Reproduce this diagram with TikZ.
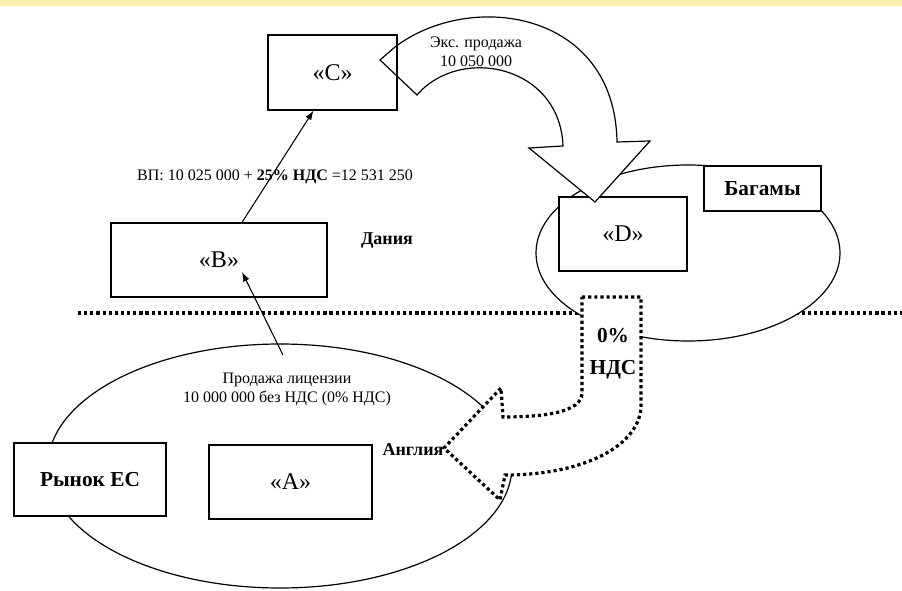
\documentclass[tikz,border=0pt]{standalone}
\usepackage{fontspec}
\setmainfont{Liberation Serif}
\usetikzlibrary{shapes.geometric, arrows.meta, calc}
\definecolor{bandyel}{RGB}{246,238,170}

\begin{document}
\begin{tikzpicture}[x=0.75pt, y=-0.75pt, font=\fontsize{12}{14.25}\selectfont,
  firmbox/.style={draw, line width=0.9pt, fill=white, inner sep=0pt, font=\fontsize{18}{21}\selectfont},
  tagbox/.style={draw, line width=0.9pt, fill=white, inner sep=0pt, font=\bfseries\fontsize{16}{19}\selectfont},
  country/.style={draw, ellipse, line width=0.9pt, fill=white, inner sep=0pt},
  dotline/.style={line width=2.4pt, dash pattern=on 2.4pt off 2.2pt},
  flow/.style={line width=0.8pt, -{Latex[length=7pt,width=5pt]}}
]
  \useasboundingbox (0,0) rectangle (902,591);
  \fill[white] (0,0) rectangle (902,591);
  \fill[bandyel] (0,0) rectangle (902,6);

  % border line
  \draw[dotline] (78,313) -- (902,313);

  % Bahamas
  \node[country, minimum width=228pt, minimum height=132pt] (bah) at (688,253) {};
  \node[firmbox, minimum width=96pt, minimum height=55.5pt] (D) at (623,234) {«D»};
  \node[tagbox, minimum width=87.75pt, minimum height=33.75pt] (bahtag) at (762.5,188.5) {Багамы};

  % export arrow C -> D
  \draw[line width=0.9pt, fill=white] (380,60) -- (395,47)
    .. controls (470,-10) and (615,10) .. (617,142) -- (650,141) -- (595,202)
    -- (529,148) -- (563,146) .. controls (560,65) and (460,45) .. (417,95) -- cycle;
  \node[firmbox, fill=none, minimum width=96.75pt, minimum height=56.25pt] (C) at (332.5,72.5) {«C»};
  \node[align=center] (exptxt) at (476,52) {Экс. продажа\\10 050 000};

  % England
  \node[country, minimum width=348pt, minimum height=183pt] (eng) at (280,466) {};
  \node[tagbox, minimum width=114pt, minimum height=54.75pt] (eu) at (90,479.5) {Рынок ЕС};
  \node[firmbox, minimum width=122.25pt, minimum height=55.5pt] (A) at (290.5,482) {«A»};
  \node[align=center] (lic) at (287,389) {Продажа лицензии\\10 000 000 без НДС (0\% НДС)};

  % zero VAT arrow D -> A
  \draw[dotline, fill=white] (582,297) -- (641,297) -- (641,405)
    .. controls (641,445) and (585,475) .. (505,475) -- (500,500) -- (444,448)
    -- (501,388) -- (503,417) .. controls (545,417) and (582,412) .. (582,393) -- cycle;
  \node[align=center, font=\bfseries\fontsize{16}{24}\selectfont] (vat0) at (613,354) {0\%\\НДС};
  \node[font=\bfseries\fontsize{13.5}{16}\selectfont] (engtag) at (413,450) {Англия};

  % Denmark
  \node[firmbox, minimum width=162pt, minimum height=55.5pt] (B) at (219,260) {«B»};
  \node[font=\bfseries\fontsize{13.5}{16}\selectfont] (dk) at (387,241) {Дания};
  \node (vp) at (275,177) {ВП: 10 025 000 + \textbf{25\% НДС} =12 531 250};

  \coordinate (licsrc) at (283,355);
  \draw[flow] ($(B.north)+(23,0)$) -- ($(C.south)+(-19,0)$);
  \draw[flow] (licsrc) -- ($(B.center)+(23,12)$);
\end{tikzpicture}
\end{document}
